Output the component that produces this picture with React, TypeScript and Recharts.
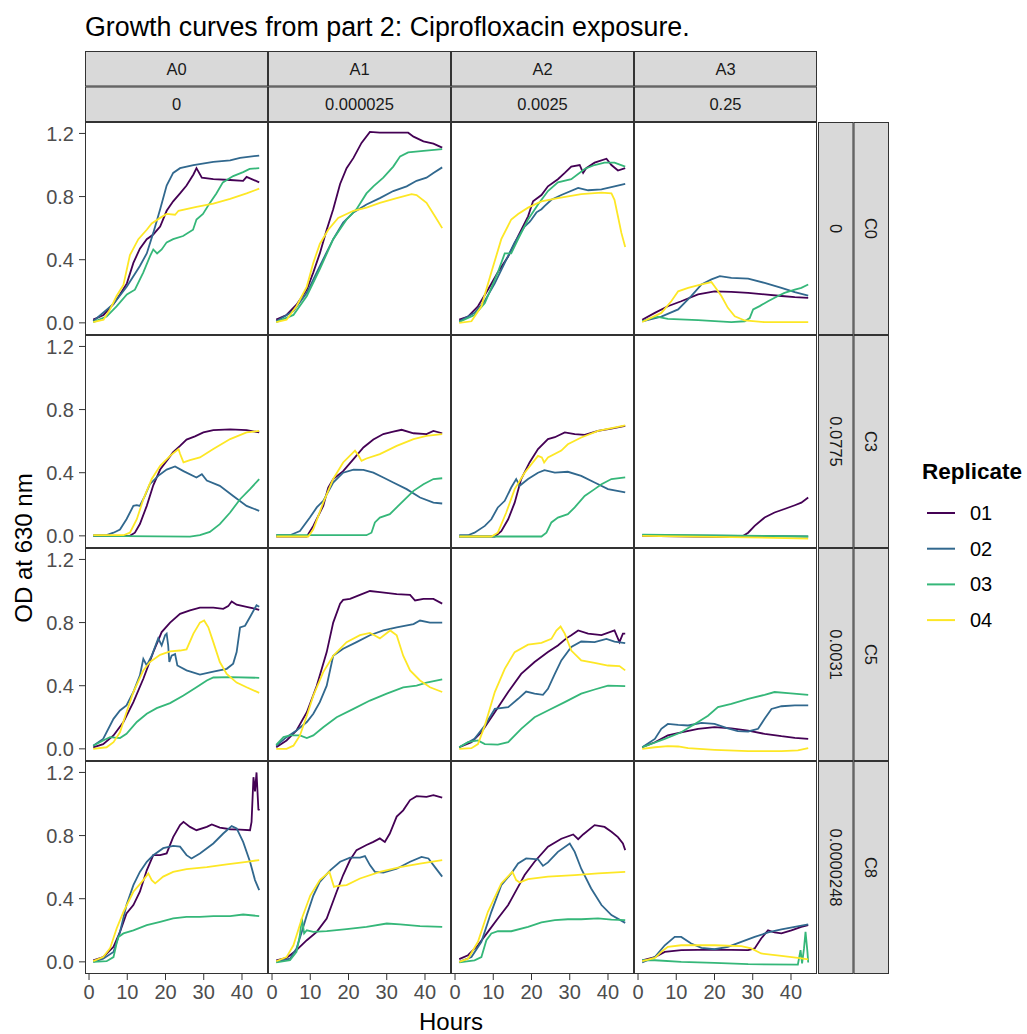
import React from 'react';
import { LineChart, Line, XAxis, YAxis } from 'recharts';

type Pt = [number, number];

// facet labels
const columns = ['A0', 'A1', 'A2', 'A3'];
const columnDoses = ['0', '0.000025', '0.0025', '0.25'];
const rows = ['C0', 'C3', 'C5', 'C8'];
const rowDoses = ['0', '0.0775', '0.0031', '0.0000248'];

const replicates = ['01', '02', '03', '04'];
const replicateColors = ['#440154', '#31688E', '#35B779', '#FDE725'];

const hourTicks = [0, 10, 20, 30, 40];
const odTicks = [0, 0.4, 0.8, 1.2];

// [hours, OD630] per replicate, one array per panel
const a0c0: Pt[][] = [
  [[1.1, 0.02], [3.8, 0.05], [6.4, 0.12], [8.1, 0.18], [9.9, 0.25], [11.6, 0.38], [13.3, 0.47], [15.1, 0.53], [16.8, 0.56], [18.6, 0.61], [20.3, 0.71], [22, 0.77], [23.8, 0.82], [25.5, 0.87], [27.3, 0.94], [28.1, 0.98], [29.5, 0.92], [32.5, 0.91], [36.9, 0.905], [40.3, 0.9], [41.2, 0.925], [44.5, 0.89]],
  [[1.1, 0.01], [6.4, 0.12], [9.9, 0.23], [13.3, 0.36], [15.1, 0.44], [16.8, 0.57], [18.6, 0.72], [20.3, 0.87], [22, 0.95], [23.8, 0.98], [27.3, 1.0], [32.5, 1.02], [36.9, 1.03], [39.5, 1.045], [44.5, 1.06]],
  [[1.1, 0.005], [4.6, 0.04], [7.2, 0.105], [9.9, 0.18], [12, 0.21], [14.2, 0.32], [15.9, 0.42], [16.8, 0.465], [17.8, 0.44], [19, 0.465], [20.3, 0.51], [22, 0.53], [24.6, 0.55], [27.2, 0.59], [28.1, 0.655], [29.8, 0.69], [31.6, 0.76], [33.3, 0.82], [35, 0.89], [37.7, 0.93], [40.3, 0.955], [42, 0.975], [44.5, 0.98]],
  [[1.1, 0.005], [3.8, 0.02], [5.5, 0.085], [7.2, 0.17], [9, 0.24], [10.7, 0.43], [12.9, 0.53], [15.1, 0.59], [16.4, 0.63], [18.6, 0.665], [20.3, 0.69], [22.5, 0.685], [23.4, 0.71], [28.1, 0.735], [32.5, 0.755], [36.9, 0.785], [41.2, 0.82], [44.5, 0.85]],
];

const a1c0: Pt[][] = [
  [[1.1, 0.02], [3.8, 0.05], [6.4, 0.115], [9.1, 0.21], [10.8, 0.32], [12.5, 0.44], [14.3, 0.59], [16, 0.72], [17.8, 0.88], [19.5, 0.98], [21.3, 1.045], [23.4, 1.14], [25.6, 1.21], [28.2, 1.205], [32.6, 1.205], [35.6, 1.205], [37, 1.18], [39.6, 1.15], [42.2, 1.135], [44.5, 1.11]],
  [[1.1, 0.01], [5.6, 0.075], [9.1, 0.19], [12.5, 0.36], [16, 0.53], [18.6, 0.635], [21.3, 0.7], [24.7, 0.75], [28.2, 0.79], [31.7, 0.835], [35.2, 0.865], [37.8, 0.9], [40.4, 0.92], [42.2, 0.95], [44.5, 0.985]],
  [[1.1, 0.005], [5.6, 0.05], [9.1, 0.17], [12.5, 0.34], [16, 0.53], [19.5, 0.655], [22.1, 0.72], [24.7, 0.82], [26.5, 0.865], [29.1, 0.92], [31.7, 0.99], [33.5, 1.055], [35.6, 1.08], [39.6, 1.09], [44.5, 1.1]],
  [[1.1, 0.005], [3.8, 0.02], [6.4, 0.105], [9.1, 0.23], [10.8, 0.38], [12.5, 0.5], [14.7, 0.59], [17.3, 0.665], [21.3, 0.71], [24.7, 0.73], [28.2, 0.76], [32.6, 0.79], [36.5, 0.815], [37.8, 0.81], [40.4, 0.76], [42.6, 0.675], [44.5, 0.6]],
];

const a2c0: Pt[][] = [
  [[1.1, 0.02], [3.4, 0.04], [6, 0.105], [8.6, 0.21], [11.2, 0.32], [13.9, 0.42], [16.5, 0.55], [19.1, 0.675], [20.4, 0.77], [22.6, 0.81], [24.3, 0.865], [26.9, 0.91], [28.7, 0.95], [30.4, 0.99], [32.6, 1.0], [33.5, 0.95], [34.3, 0.98], [36.5, 1.015], [39.6, 1.04], [40.9, 1.0], [42.6, 0.965], [44.5, 0.98]],
  [[1.1, 0.01], [5.1, 0.063], [7.8, 0.14], [10.4, 0.25], [13, 0.38], [15.6, 0.51], [18.2, 0.61], [19.5, 0.64], [20, 0.655], [21.3, 0.7], [22.6, 0.72], [23.4, 0.74], [25.2, 0.78], [27.8, 0.81], [32.2, 0.855], [34.8, 0.84], [38.3, 0.845], [41.7, 0.865], [44.5, 0.88]],
  [[1.1, 0.005], [5.1, 0.05], [7.8, 0.125], [11.2, 0.32], [13, 0.44], [14.7, 0.44], [16.5, 0.53], [19.1, 0.655], [21.7, 0.75], [24.3, 0.835], [26.9, 0.89], [30.4, 0.91], [33.9, 0.975], [36.5, 1.0], [39.1, 1.015], [41.7, 1.015], [44.5, 0.99]],
  [[1.1, 0], [4.3, 0.01], [6.9, 0.105], [9.5, 0.32], [12.1, 0.53], [14.7, 0.655], [16.5, 0.69], [19.1, 0.73], [22.6, 0.77], [26.9, 0.79], [33, 0.815], [38.3, 0.825], [40.9, 0.82], [41.7, 0.78], [42.6, 0.675], [43.5, 0.57], [44.5, 0.48]],
];

const a3c0: Pt[][] = [
  [[1.1, 0.02], [4.4, 0.063], [7.8, 0.105], [11.3, 0.137], [15.7, 0.18], [20, 0.2], [24.4, 0.196], [28.8, 0.19], [33.1, 0.18], [37.5, 0.17], [41, 0.163], [44.5, 0.158]],
  [[1.1, 0.01], [6.1, 0.04], [10.5, 0.085], [13.9, 0.17], [16.6, 0.243], [19.2, 0.275], [21.4, 0.296], [24.4, 0.285], [28.8, 0.28], [33.1, 0.253], [37.5, 0.222], [41, 0.194], [44.5, 0.173]],
  [[1.1, 0.01], [3.5, 0.03], [5.2, 0.038], [7.8, 0.025], [15.7, 0.017], [24.4, 0.004], [27.9, 0.01], [29.2, 0.03], [30.1, 0.085], [31.8, 0.106], [34, 0.137], [36.6, 0.17], [38.3, 0.19], [41, 0.21], [42.7, 0.222], [44.5, 0.243]],
  [[1.1, 0.005], [6.1, 0.063], [8.7, 0.137], [10.5, 0.2], [13.1, 0.222], [16.6, 0.243], [19.2, 0.258], [20, 0.232], [21.8, 0.17], [23.5, 0.095], [25.3, 0.042], [27.9, 0.015], [33.1, 0.004], [44.5, 0.004]],
];

const a0c3: Pt[][] = [
  [[1.1, 0], [10.7, 0], [12, 0.02], [13.3, 0.075], [15.1, 0.19], [16.8, 0.32], [18.6, 0.42], [20.3, 0.475], [22, 0.53], [23.8, 0.57], [25.5, 0.61], [27.7, 0.63], [29.9, 0.655], [32.5, 0.67], [36.9, 0.675], [41.2, 0.67], [44.5, 0.655]],
  [[1.1, 0.004], [4.6, 0.004], [6.4, 0.02], [8.1, 0.04], [9.8, 0.105], [11.6, 0.19], [12.5, 0.194], [13.3, 0.19], [14.6, 0.253], [15.9, 0.327], [18.1, 0.38], [20.3, 0.42], [22.5, 0.44], [24.7, 0.41], [28.1, 0.37], [29.5, 0.39], [30.8, 0.35], [34.2, 0.317], [37.7, 0.253], [41.2, 0.19], [44.5, 0.158]],
  [[1.1, 0], [26.4, -0.005], [29, 0.004], [31.6, 0.025], [34.2, 0.074], [36.9, 0.148], [39.5, 0.232], [42.1, 0.296], [44.5, 0.36]],
  [[1.1, 0.004], [9, 0.004], [10.7, 0.02], [12.5, 0.105], [14.2, 0.232], [16.4, 0.36], [18.6, 0.444], [21.2, 0.507], [23.4, 0.55], [23.8, 0.52], [24.7, 0.465], [26.4, 0.48], [29, 0.497], [32.5, 0.55], [36.9, 0.613], [41.2, 0.655], [44.5, 0.665]],
];

const a1c3: Pt[][] = [
  [[1.1, -0.004], [9.1, -0.004], [10.8, 0.063], [13.4, 0.19], [14.7, 0.306], [16, 0.36], [18.6, 0.41], [21.3, 0.486], [23.9, 0.56], [26.5, 0.61], [29.1, 0.645], [31.7, 0.66], [33.9, 0.672], [37, 0.65], [40.4, 0.645], [42.2, 0.665], [44.5, 0.65]],
  [[1.1, 0.004], [4.7, 0.004], [7.3, 0.03], [9.9, 0.116], [11.7, 0.18], [13.4, 0.222], [16, 0.338], [18.6, 0.4], [21.3, 0.42], [23.9, 0.418], [26.5, 0.4], [29.1, 0.37], [31.7, 0.338], [35.2, 0.296], [38.7, 0.243], [42.2, 0.21], [44.5, 0.205]],
  [[1.1, 0.004], [24.7, 0.004], [26, 0.02], [26.9, 0.085], [28.2, 0.116], [30.8, 0.137], [32.6, 0.18], [34.8, 0.232], [37, 0.285], [39.6, 0.327], [42.2, 0.36], [44.5, 0.365]],
  [[1.1, -0.004], [9.5, -0.004], [10.8, 0.042], [13.4, 0.21], [16, 0.36], [18.6, 0.465], [21.7, 0.54], [22.6, 0.51], [23.4, 0.475], [24.7, 0.49], [28.2, 0.518], [32.6, 0.57], [37, 0.613], [40.4, 0.634], [44.5, 0.645]],
];

const a2c3: Pt[][] = [
  [[1.1, -0.004], [10.4, -0.004], [12.1, 0.03], [13.9, 0.105], [15.6, 0.21], [17.3, 0.36], [19.5, 0.465], [21.7, 0.55], [24.3, 0.613], [26.1, 0.625], [28.7, 0.655], [31.3, 0.645], [33.9, 0.64], [37.4, 0.665], [40.9, 0.68], [44.5, 0.697]],
  [[1.1, 0.004], [3.4, 0.004], [5.1, 0.02], [7.8, 0.063], [9.5, 0.105], [11.2, 0.18], [13, 0.222], [14.7, 0.306], [16, 0.36], [16.9, 0.317], [19.1, 0.36], [21.7, 0.4], [23.4, 0.416], [26.1, 0.4], [29.5, 0.406], [33, 0.38], [36.5, 0.338], [40, 0.296], [44.5, 0.275]],
  [[1.1, -0.004], [22.6, -0.004], [23.9, 0.02], [25.2, 0.085], [26.9, 0.116], [29.5, 0.137], [31.3, 0.18], [33.9, 0.253], [36.5, 0.296], [38.3, 0.327], [40.9, 0.36], [44.5, 0.37]],
  [[1.1, -0.004], [9.5, -0.004], [11.2, 0.02], [13.4, 0.148], [15.6, 0.296], [18.2, 0.4], [21.7, 0.507], [22.7, 0.497], [23.3, 0.465], [24.3, 0.497], [27.8, 0.54], [29.5, 0.58], [33, 0.623], [37.4, 0.665], [44.5, 0.7]],
];

const a3c3: Pt[][] = [
  [[1.1, 0], [15, -0.005], [27, -0.008], [28.8, 0.02], [30.5, 0.063], [33.1, 0.116], [35.7, 0.148], [38.3, 0.17], [41, 0.194], [42.7, 0.21], [44.5, 0.243]],
  [[1.1, 0.004], [20, 0.002], [44.5, -0.004]],
  [[1.1, 0.008], [20, 0.003], [44.5, -0.004]],
  [[1.1, 0], [20, -0.006], [44.5, -0.017]],
];

const a0c5: Pt[][] = [
  [[1.1, 0.01], [3.7, 0.03], [6.4, 0.085], [9, 0.17], [11.6, 0.296], [14.2, 0.444], [16.8, 0.613], [19, 0.74], [21.2, 0.8], [23.8, 0.855], [26.4, 0.877], [29, 0.895], [32.5, 0.895], [35.1, 0.887], [36.4, 0.904], [37.3, 0.934], [38.6, 0.913], [41.2, 0.9], [43, 0.89], [44.5, 0.88]],
  [[1.1, 0.02], [3.7, 0.063], [6.4, 0.19], [8.1, 0.243], [9.8, 0.275], [11.6, 0.36], [13.3, 0.465], [14.2, 0.57], [15.1, 0.528], [16.4, 0.59], [18.1, 0.7], [19, 0.655], [19.9, 0.72], [20.3, 0.73], [20.7, 0.655], [21, 0.55], [21.6, 0.59], [22.5, 0.6], [23.1, 0.528], [25.5, 0.497], [29, 0.47], [32.5, 0.49], [36, 0.507], [37.7, 0.54], [38.6, 0.613], [39.5, 0.77], [40.8, 0.78], [42.1, 0.835], [43.8, 0.91], [44.5, 0.9]],
  [[1.1, 0.02], [3.7, 0.053], [5.5, 0.074], [8.1, 0.068], [9.8, 0.095], [12.5, 0.17], [15.1, 0.222], [17.7, 0.258], [21.2, 0.29], [24.7, 0.338], [28.1, 0.39], [30.8, 0.433], [32.5, 0.452], [36.9, 0.454], [44.5, 0.45]],
  [[1.1, 0], [4.6, 0.01], [6.4, 0.042], [8.1, 0.105], [9.8, 0.232], [11.6, 0.36], [14.2, 0.497], [15.9, 0.55], [18.6, 0.596], [21.2, 0.617], [23.8, 0.623], [25.5, 0.63], [27.3, 0.73], [29, 0.8], [30.1, 0.813], [31.2, 0.77], [32.5, 0.676], [34.2, 0.55], [36, 0.475], [38.6, 0.42], [41.2, 0.39], [44.5, 0.355]],
];

const a1c5: Pt[][] = [
  [[1.1, 0.01], [3.8, 0.053], [6.4, 0.116], [9.1, 0.232], [11.7, 0.4], [14.3, 0.613], [16, 0.8], [17.8, 0.92], [18.6, 0.944], [20.4, 0.95], [23, 0.976], [25.6, 1.0], [28.2, 0.993], [32.6, 0.98], [36.1, 0.976], [37.4, 0.94], [39.6, 0.95], [42.2, 0.95], [44.5, 0.92]],
  [[1.1, 0.02], [3.8, 0.074], [6.4, 0.116], [9.1, 0.17], [10.8, 0.222], [12.5, 0.296], [14.3, 0.4], [16, 0.59], [18.6, 0.634], [22.1, 0.676], [25.6, 0.72], [29.1, 0.75], [32.6, 0.77], [37, 0.79], [38.7, 0.813], [41.3, 0.8], [44.5, 0.8]],
  [[1.1, 0.025], [3, 0.074], [4.7, 0.085], [7.3, 0.085], [9.1, 0.068], [10.8, 0.085], [13.4, 0.137], [16.9, 0.2], [21.3, 0.253], [25.6, 0.306], [30, 0.35], [34.3, 0.39], [37.8, 0.4], [40.4, 0.42], [44.5, 0.44]],
  [[1.1, 0], [3.8, 0], [5.6, 0.02], [7.3, 0.085], [9.1, 0.21], [10.8, 0.338], [13.4, 0.486], [16, 0.59], [19.5, 0.676], [23, 0.72], [25.6, 0.735], [28.2, 0.7], [30.9, 0.75], [32.6, 0.72], [34.3, 0.59], [36.1, 0.497], [38.7, 0.433], [41.3, 0.39], [44.5, 0.36]],
];

const a2c5: Pt[][] = [
  [[1.1, 0.01], [4.3, 0.042], [6.9, 0.105], [10.4, 0.232], [13.9, 0.36], [17.3, 0.475], [20.8, 0.55], [24.3, 0.613], [26.9, 0.655], [29.1, 0.7], [30.4, 0.72], [32.2, 0.75], [34.8, 0.73], [38.3, 0.72], [41.7, 0.75], [43, 0.676], [43.9, 0.73], [44.5, 0.73]],
  [[1.1, 0.01], [5.1, 0.063], [7.8, 0.148], [10.4, 0.253], [13.9, 0.264], [16.5, 0.317], [18.6, 0.363], [20.8, 0.35], [23, 0.342], [24.3, 0.38], [26.1, 0.475], [27.8, 0.56], [30.4, 0.645], [33, 0.68], [36.5, 0.676], [39.6, 0.697], [41.7, 0.68], [44.5, 0.67]],
  [[1.1, 0.01], [3.4, 0.042], [6, 0.053], [7.8, 0.03], [11.2, 0.027], [13.9, 0.042], [17.3, 0.127], [20.8, 0.2], [24.3, 0.243], [28.7, 0.296], [33, 0.35], [36.5, 0.376], [40, 0.4], [44.5, 0.397]],
  [[1.1, 0], [4.3, 0.004], [6, 0.03], [7.8, 0.148], [10.4, 0.36], [13, 0.507], [15.6, 0.613], [19.1, 0.66], [22.6, 0.672], [25.2, 0.697], [26.5, 0.75], [27.6, 0.775], [28.7, 0.73], [30.4, 0.623], [33, 0.56], [36.5, 0.545], [40, 0.528], [43, 0.524], [44.5, 0.497]],
];

const a3c5: Pt[][] = [
  [[1.1, 0.01], [4.4, 0.042], [7.8, 0.085], [11.3, 0.105], [15.7, 0.127], [20, 0.137], [24.4, 0.13], [28.8, 0.116], [33.1, 0.095], [37.5, 0.08], [41, 0.07], [44.5, 0.063]],
  [[1.1, 0.01], [4.4, 0.063], [6.1, 0.127], [7.8, 0.158], [10.5, 0.152], [13.1, 0.148], [16.6, 0.165], [20, 0.158], [23.5, 0.13], [26.1, 0.112], [28.8, 0.11], [31.4, 0.127], [33.1, 0.19], [34.9, 0.253], [37.5, 0.27], [41, 0.275], [44.5, 0.275]],
  [[1.1, 0.01], [7, 0.063], [11.3, 0.105], [15.7, 0.17], [18.3, 0.21], [20.9, 0.264], [24.4, 0.285], [28.8, 0.317], [33.1, 0.342], [35.7, 0.36], [39.2, 0.353], [44.5, 0.342]],
  [[1.1, 0], [4.4, 0.01], [7.8, 0.017], [10.5, 0.015], [13.1, 0.004], [20, -0.006], [28.8, -0.015], [37.5, -0.015], [41.8, -0.01], [44.5, 0.004]],
];

const a0c8: Pt[][] = [
  [[1.1, 0.01], [3.7, 0.03], [6.4, 0.095], [8.1, 0.19], [9.8, 0.306], [11.6, 0.36], [13.3, 0.444], [15.1, 0.58], [16.8, 0.676], [18.6, 0.676], [20.3, 0.687], [22, 0.79], [23.8, 0.866], [24.7, 0.887], [26.4, 0.855], [28.1, 0.834], [30.8, 0.855], [32.1, 0.87], [34.2, 0.85], [36.9, 0.84], [39.5, 0.838], [42.1, 0.834], [42.5, 0.887], [43, 1.17], [43.4, 1.08], [43.8, 1.2], [44.3, 0.96], [44.5, 0.97]],
  [[1.1, 0], [3.7, 0.02], [6.4, 0.063], [8.1, 0.19], [9.8, 0.36], [11.6, 0.486], [13.3, 0.57], [15.1, 0.634], [16.8, 0.676], [19.4, 0.72], [22, 0.735], [23.8, 0.73], [25.5, 0.676], [26.8, 0.655], [29, 0.687], [32.5, 0.75], [35.1, 0.813], [37.3, 0.86], [38.6, 0.845], [40.3, 0.76], [42.1, 0.634], [43.4, 0.518], [44.5, 0.454]],
  [[1.1, 0], [4.6, 0.004], [6.4, 0.03], [7.2, 0.116], [7.7, 0.158], [9, 0.18], [11.6, 0.2], [15.1, 0.232], [18.6, 0.253], [22, 0.275], [25.5, 0.285], [29, 0.285], [32.5, 0.29], [36.9, 0.29], [40.3, 0.3], [44.5, 0.29]],
  [[1.1, 0.005], [3.7, 0.03], [5.5, 0.085], [7.2, 0.21], [9, 0.317], [11.6, 0.444], [14.2, 0.518], [15.5, 0.56], [16.4, 0.518], [17.3, 0.497], [19.4, 0.54], [22, 0.57], [25.5, 0.587], [30.8, 0.6], [36, 0.617], [41.2, 0.634], [44.5, 0.645]],
];

const a1c8: Pt[][] = [
  [[1.1, 0.01], [3.8, 0.025], [6.4, 0.074], [9.1, 0.137], [11.7, 0.19], [14.3, 0.275], [16.9, 0.444], [18.6, 0.55], [20.4, 0.645], [22.1, 0.708], [24.7, 0.74], [26.5, 0.76], [28.2, 0.782], [29.5, 0.76], [30.8, 0.813], [32.6, 0.92], [34.3, 0.96], [36.1, 1.025], [37.8, 1.05], [40.4, 1.045], [42.2, 1.056], [44.5, 1.04]],
  [[1.1, 0], [4.7, 0.02], [6.4, 0.085], [7.8, 0.19], [9.1, 0.296], [10.8, 0.42], [12.5, 0.507], [15.2, 0.58], [17.8, 0.634], [20.4, 0.66], [23, 0.66], [24.3, 0.67], [25.6, 0.613], [26.9, 0.57], [29.1, 0.566], [32.6, 0.59], [36.1, 0.634], [39.1, 0.665], [40.9, 0.655], [42.6, 0.6], [44.5, 0.54]],
  [[1.1, -0.004], [4.7, 0.01], [6.4, 0.063], [7.3, 0.17], [7.8, 0.275], [8.4, 0.18], [9.1, 0.2], [10.8, 0.19], [14.3, 0.194], [19.5, 0.207], [24.7, 0.222], [30, 0.243], [33.5, 0.237], [38.7, 0.226], [44.5, 0.222]],
  [[1.1, 0.004], [3.8, 0.03], [5.6, 0.105], [7.8, 0.275], [10, 0.42], [12.5, 0.518], [15, 0.57], [16.2, 0.475], [16.9, 0.48], [19.5, 0.486], [23, 0.528], [28.2, 0.57], [33.5, 0.6], [38.7, 0.623], [44.5, 0.645]],
];

const a2c8: Pt[][] = [
  [[1.1, 0.017], [3.4, 0.042], [6, 0.105], [8.6, 0.19], [11.2, 0.275], [13.9, 0.36], [16.5, 0.475], [18.2, 0.55], [20.8, 0.634], [24.3, 0.73], [27.8, 0.78], [30.9, 0.807], [32.2, 0.777], [33.5, 0.807], [36.5, 0.866], [39.1, 0.855], [40.9, 0.824], [42.6, 0.79], [43.9, 0.75], [44.5, 0.708]],
  [[1.1, 0], [4.3, 0.03], [6.9, 0.127], [9.5, 0.317], [12.1, 0.486], [14.7, 0.56], [16.5, 0.623], [18.6, 0.655], [21.7, 0.65], [23, 0.608], [24.3, 0.63], [26.9, 0.697], [30, 0.75], [31.3, 0.697], [33, 0.59], [35.6, 0.465], [38.3, 0.36], [40.9, 0.296], [44.5, 0.247]],
  [[1.1, -0.004], [5.1, 0.01], [6.9, 0.03], [8.2, 0.137], [9.5, 0.18], [11.2, 0.194], [14.7, 0.194], [19.1, 0.222], [22.6, 0.25], [26.1, 0.264], [29.5, 0.27], [33, 0.27], [37.4, 0.275], [40.9, 0.268], [44.5, 0.264]],
  [[1.1, 0], [3.4, 0.02], [6, 0.127], [8.6, 0.317], [12.1, 0.497], [15, 0.57], [16, 0.518], [16.9, 0.503], [19.1, 0.524], [24.3, 0.54], [31.3, 0.55], [37.4, 0.56], [44.5, 0.57]],
];

const a3c8: Pt[][] = [
  [[1.1, 0.01], [4.4, 0.03], [7, 0.063], [11.3, 0.074], [20, 0.078], [28.8, 0.074], [30.5, 0.085], [32.2, 0.148], [34, 0.2], [35.7, 0.186], [37.5, 0.18], [40.1, 0.2], [42.7, 0.222], [44.5, 0.232]],
  [[1.1, -0.004], [4.4, 0.03], [7, 0.105], [9.6, 0.158], [11.3, 0.158], [13.9, 0.116], [16.6, 0.089], [20, 0.08], [23.5, 0.095], [27, 0.127], [30.5, 0.158], [34, 0.186], [37.5, 0.205], [41, 0.222], [44.5, 0.237]],
  [[1.1, 0.01], [4.4, 0.01], [11.3, 0], [20, -0.006], [28.8, -0.015], [41.8, -0.017], [42.5, 0.074], [42.9, -0.01], [43.4, 0.085], [43.8, 0.19], [44.3, 0.063], [44.5, -0.004]],
  [[1.1, 0.004], [4.4, 0.025], [6.1, 0.063], [7.8, 0.095], [11.3, 0.105], [20, 0.105], [27, 0.1], [29.6, 0.085], [32.2, 0.053], [37.5, 0.038], [41.8, 0.025], [44.5, 0.015]],
];

const panels: Pt[][][][] = [
  [a0c0, a1c0, a2c0, a3c0],
  [a0c3, a1c3, a2c3, a3c3],
  [a0c5, a1c5, a2c5, a3c5],
  [a0c8, a1c8, a2c8, a3c8],
];

// layout
const FONT = '"Liberation Sans", Arial, Helvetica, sans-serif';
const LEFT = 85;
const TOP = 122;
const PW = 183;
const PH = 213;
const STRIP_H = 35.5;
const STRIP_W = 35.5;
const Y_AXIS_W = 85;
const X_AXIS_H = 60;
const PAD = 12; // room for the first x tick label in bottom panels
const X_DOMAIN: [number, number] = [-1.05, 46.8];
const Y_DOMAIN: [number, number] = [-0.077, 1.2725];

const toRows = (curves: Pt[][]) => {
  const out: Record<string, number>[] = [];
  curves.forEach((pts, i) => pts.forEach(([h, v]) => out.push({ h, [`r${i}`]: v })));
  return out.sort((a, b) => a.h - b.h);
};

const Panel = ({ r, c }: { r: number; c: number }) => {
  const withY = c === 0;
  const withX = r === rows.length - 1;
  const padL = withY ? Y_AXIS_W : withX ? PAD : 0;
  const width = PW + padL;
  const height = PH + (withX ? X_AXIS_H : 0);
  const left = LEFT + c * PW - padL;
  const top = TOP + r * PH;
  const tickStyle = { fill: '#4d4d4d', fontSize: 20, fontFamily: FONT };

  return (
    <div style={{ position: 'absolute', left, top }}>
      <LineChart
        width={width}
        height={height}
        data={toRows(panels[r][c])}
        margin={{ top: 0, right: 0, bottom: 0, left: withY ? 0 : padL }}
      >
        <XAxis
          type="number"
          dataKey="h"
          domain={X_DOMAIN}
          allowDataOverflow
          ticks={hourTicks}
          hide={!withX}
          height={X_AXIS_H}
          axisLine={false}
          tickSize={6}
          tickMargin={5}
          tickLine={{ stroke: '#333333' }}
          tick={tickStyle}
          interval={0}
        />
        <YAxis
          type="number"
          domain={Y_DOMAIN}
          allowDataOverflow
          ticks={odTicks}
          hide={!withY}
          width={Y_AXIS_W}
          axisLine={false}
          tickSize={6}
          tickMargin={5}
          tickLine={{ stroke: '#333333' }}
          tick={tickStyle}
          tickFormatter={(v: number) => v.toFixed(1)}
          interval={0}
        />
        {replicates.map((rep, i) => (
          <Line
            key={rep}
            dataKey={`r${i}`}
            name={rep}
            stroke={replicateColors[i]}
            strokeWidth={1.8}
            dot={false}
            connectNulls
            isAnimationActive={false}
          />
        ))}
      </LineChart>
    </div>
  );
};

export default function App() {
  const stripText = { fontFamily: FONT, fontSize: 16.5, fill: '#1a1a1a' };
  const rightX = LEFT + columns.length * PW + 1;

  return (
    <div style={{ position: 'absolute', left: 0, top: 0, width: 1027, height: 1034, background: '#fff' }}>
      {rows.map((_, r) => columns.map((_, c) => <Panel key={`${r}-${c}`} r={r} c={c} />))}

      <svg width={1027} height={1034} style={{ position: 'absolute', left: 0, top: 0, pointerEvents: 'none' }}>
        <text x={LEFT} y={36} fontFamily={FONT} fontSize={26.8} fill="#000">
          Growth curves from part 2: Ciprofloxacin exposure.
        </text>

        {/* panel frames */}
        {rows.map((_, r) =>
          columns.map((_, c) => (
            <rect key={`f${r}${c}`} x={LEFT + c * PW + 0.5} y={TOP + r * PH + 0.5} width={PW - 1} height={PH - 1} fill="none" stroke="#333333" />
          )),
        )}

        {/* column strips */}
        {columns.map((name, c) => (
          <g key={name}>
            <rect x={LEFT + c * PW + 0.5} y={TOP - 2 * STRIP_H + 0.5} width={PW - 1} height={STRIP_H - 1} fill="#d9d9d9" stroke="#333333" />
            <text x={LEFT + c * PW + PW / 2} y={TOP - 1.5 * STRIP_H} textAnchor="middle" dominantBaseline="central" {...stripText}>{name}</text>
            <rect x={LEFT + c * PW + 0.5} y={TOP - STRIP_H + 0.5} width={PW - 1} height={STRIP_H - 1} fill="#d9d9d9" stroke="#333333" />
            <text x={LEFT + c * PW + PW / 2} y={TOP - 0.5 * STRIP_H} textAnchor="middle" dominantBaseline="central" {...stripText}>{columnDoses[c]}</text>
          </g>
        ))}

        {/* row strips */}
        {rows.map((name, r) => {
          const cy = TOP + r * PH + PH / 2;
          const x1 = rightX;
          const x2 = rightX + STRIP_W;
          return (
            <g key={name}>
              <rect x={x1 + 0.5} y={TOP + r * PH + 0.5} width={STRIP_W - 1} height={PH - 1} fill="#d9d9d9" stroke="#333333" />
              <text x={x1 + STRIP_W / 2} y={cy} textAnchor="middle" dominantBaseline="central" transform={`rotate(90 ${x1 + STRIP_W / 2} ${cy})`} {...stripText}>{rowDoses[r]}</text>
              <rect x={x2 + 0.5} y={TOP + r * PH + 0.5} width={STRIP_W - 1} height={PH - 1} fill="#d9d9d9" stroke="#333333" />
              <text x={x2 + STRIP_W / 2} y={cy} textAnchor="middle" dominantBaseline="central" transform={`rotate(90 ${x2 + STRIP_W / 2} ${cy})`} {...stripText}>{name}</text>
            </g>
          );
        })}

        {/* axis titles */}
        <text x={LEFT + (columns.length * PW) / 2} y={1030} textAnchor="middle" fontFamily={FONT} fontSize={24} fill="#000">Hours</text>
        <text x={32} y={TOP + 2 * PH} textAnchor="middle" transform={`rotate(-90 32 ${TOP + 2 * PH})`} fontFamily={FONT} fontSize={24} fill="#000">OD at 630 nm</text>

        {/* legend */}
        <text x={922} y={479} fontFamily={FONT} fontSize={22.5} fontWeight="bold" fill="#000">Replicate</text>
        {replicates.map((rep, i) => {
          const y = 513 + i * 35.7;
          return (
            <g key={rep}>
              <line x1={927} x2={955} y1={y} y2={y} stroke={replicateColors[i]} strokeWidth={2} />
              <text x={970} y={y} dominantBaseline="central" fontFamily={FONT} fontSize={20} fill="#000">{rep}</text>
            </g>
          );
        })}
      </svg>
    </div>
  );
}
